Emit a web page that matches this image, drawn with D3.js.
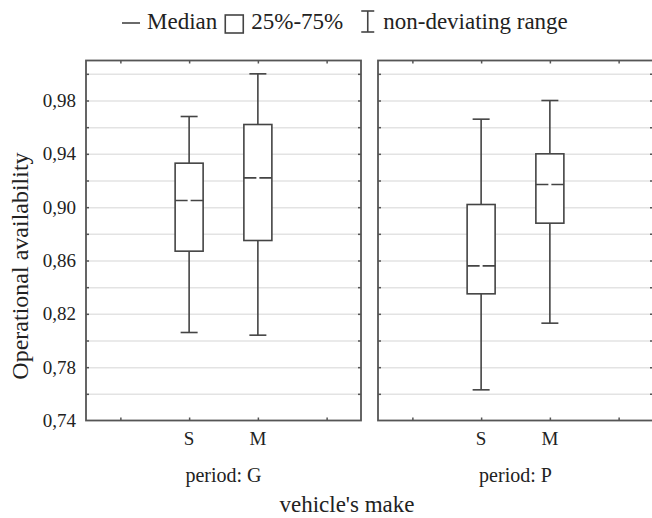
<!DOCTYPE html>
<html>
<head>
<meta charset="utf-8">
<script src="https://cdn.jsdelivr.net/npm/d3@7"></script>
<style>
  body { margin: 0; background: #fff; }
  svg { display: block; }
  svg text { font-family: "Liberation Serif", "DejaVu Serif", serif; }
</style>
</head>
<body>
<div id="container"></div>
<script>
// Data
const periods = ["period: G", "period: P"];
const makes = ["S", "M"];
const whiskerLow  = [[0.806, 0.804], [0.763, 0.813]];
const quart1      = [[0.867, 0.875], [0.835, 0.888]];
const medians     = [[0.905, 0.922], [0.856, 0.917]];
const quart3      = [[0.933, 0.962], [0.902, 0.940]];
const whiskerHigh = [[0.968, 1.000], [0.966, 0.980]];
const yLabelTicks = [0.74, 0.78, 0.82, 0.86, 0.90, 0.94, 0.98];
const yGridTicks = [0.76, 0.78, 0.80, 0.82, 0.84, 0.86, 0.88, 0.90, 0.92, 0.94, 0.96, 0.98, 1.00];
const legendLabels = ["Median", "25%-75%", "non-deviating range"];

const width = 652;
const height = 518;
const panelW = 275;
const panelX = [86, 378];
const plotTop = 60.5;
const plotBottom = 420.5;
const slots = [1, 2, 3, 4];      // tick slots along each panel
const makeSlot = [2, 3];         // S and M sit on the middle slots

const frameColor = "#555";
const boxColor = "#444";
const textColor = "#222";
const serif = "Liberation Serif, DejaVu Serif, serif";

const svg = d3.select("#container")
    .append("svg")
    .attr("width", width)
    .attr("height", height)
    .attr("font-family", serif);

const y = d3.scaleLinear().domain([0.74, 1.01]).range([plotBottom, plotTop]);
const x = d3.scaleLinear().domain([0.5, 4.5]).range([0, panelW]);

periods.forEach(function (period, p) {
    const g = svg.append("g").attr("transform", `translate(${panelX[p]},0)`);

    //gridlines
    g.append("g")
        .call(d3.axisLeft(y).tickValues(yGridTicks).tickSize(-panelW).tickFormat(""))
        .call(s => s.select(".domain").remove())
        .call(s => s.selectAll("line").attr("stroke", "#e3e3e3").attr("stroke-width", 1.5));

    //inner ticks on all four sides
    const ticks = g.append("g");
    ticks.append("g").attr("transform", `translate(0,${plotBottom})`)
        .call(d3.axisBottom(x).tickValues(slots).tickSize(-3).tickFormat(""));
    ticks.append("g").attr("transform", `translate(0,${plotTop})`)
        .call(d3.axisTop(x).tickValues(slots).tickSize(-3).tickFormat(""));
    ticks.append("g")
        .call(d3.axisLeft(y).tickValues(yGridTicks).tickSize(-3).tickFormat(""));
    ticks.append("g").attr("transform", `translate(${panelW},0)`)
        .call(d3.axisRight(y).tickValues(yGridTicks).tickSize(-3).tickFormat(""));
    ticks.selectAll(".domain").remove();
    ticks.selectAll(".tick line").attr("stroke", frameColor).attr("stroke-width", 1.5);

    //frame
    g.append("rect")
        .attr("x", 0).attr("y", plotTop)
        .attr("width", panelW).attr("height", plotBottom - plotTop)
        .attr("fill", "none").attr("stroke", frameColor).attr("stroke-width", 1.8);

    //boxes
    const boxW = 28, capW = 17;
    makes.forEach(function (m, i) {
        const cx = x(makeSlot[i]);
        const b = g.append("g").attr("stroke", boxColor).attr("stroke-width", 1.6).attr("fill", "none");
        b.append("line").attr("x1", cx).attr("x2", cx)
            .attr("y1", y(whiskerHigh[p][i])).attr("y2", y(quart3[p][i]));
        b.append("line").attr("x1", cx).attr("x2", cx)
            .attr("y1", y(quart1[p][i])).attr("y2", y(whiskerLow[p][i]));
        b.append("line").attr("x1", cx - capW / 2).attr("x2", cx + capW / 2)
            .attr("y1", y(whiskerHigh[p][i])).attr("y2", y(whiskerHigh[p][i]));
        b.append("line").attr("x1", cx - capW / 2).attr("x2", cx + capW / 2)
            .attr("y1", y(whiskerLow[p][i])).attr("y2", y(whiskerLow[p][i]));
        b.append("rect").attr("x", cx - boxW / 2).attr("width", boxW)
            .attr("y", y(quart3[p][i])).attr("height", y(quart1[p][i]) - y(quart3[p][i]))
            .attr("fill", "#fff");
        b.append("line").attr("x1", cx - boxW / 2).attr("x2", cx + boxW / 2)
            .attr("y1", y(medians[p][i])).attr("y2", y(medians[p][i]))
            .attr("stroke-dasharray", "12.5,3");

        //category label
        g.append("text")
            .attr("x", cx).attr("y", 445)
            .attr("text-anchor", "middle")
            .attr("font-size", 19).attr("fill", textColor)
            .text(m);
    });

    g.append("text")
        .attr("x", panelW / 2).attr("y", 482)
        .attr("text-anchor", "middle")
        .attr("font-size", 20).attr("fill", textColor)
        .text(period);

    //y labels on first panel only
    if (p === 0) {
        g.append("g")
            .call(d3.axisLeft(y).tickValues(yLabelTicks).tickSize(0).tickPadding(10)
                .tickFormat(d => d3.format(".2f")(d).replace(".", ",")))
            .call(s => s.select(".domain").remove())
            .call(s => s.attr("font-family", serif))
            .call(s => s.selectAll("text").attr("font-size", 19).attr("fill", textColor));
    }
});

//axis titles
svg.append("text")
    .attr("transform", "translate(28,266) rotate(-90)")
    .attr("text-anchor", "middle")
    .attr("font-size", 24).attr("fill", textColor)
    .text("Operational availability");

svg.append("text")
    .attr("x", 347).attr("y", 512)
    .attr("text-anchor", "middle")
    .attr("font-size", 23).attr("fill", textColor)
    .text("vehicle's make");

//legend
const legend = svg.append("g").attr("font-size", 23).attr("fill", textColor);
let lx = 122;
const ly = 29;
legend.append("line").attr("x1", lx).attr("x2", lx + 18).attr("y1", 23).attr("y2", 23)
    .attr("stroke", boxColor).attr("stroke-width", 1.6);
lx += 25;
let t = legend.append("text").attr("x", lx).attr("y", ly).text(legendLabels[0]);
lx += t.node().getComputedTextLength() + 8;
legend.append("rect").attr("x", lx).attr("y", 15).attr("width", 18).attr("height", 18)
    .attr("fill", "none").attr("stroke", boxColor).attr("stroke-width", 1.6);
lx += 26;
t = legend.append("text").attr("x", lx).attr("y", ly).text(legendLabels[1]);
lx += t.node().getComputedTextLength() + 16;
const icon = legend.append("g").attr("stroke", boxColor).attr("stroke-width", 1.6);
icon.append("line").attr("x1", lx + 8.5).attr("x2", lx + 8.5).attr("y1", 11).attr("y2", 32);
icon.append("line").attr("x1", lx + 2).attr("x2", lx + 15).attr("y1", 11).attr("y2", 11);
icon.append("line").attr("x1", lx + 2).attr("x2", lx + 15).attr("y1", 32).attr("y2", 32);
lx += 24;
legend.append("text").attr("x", lx).attr("y", ly).text(legendLabels[2]);
</script>
</body>
</html>
